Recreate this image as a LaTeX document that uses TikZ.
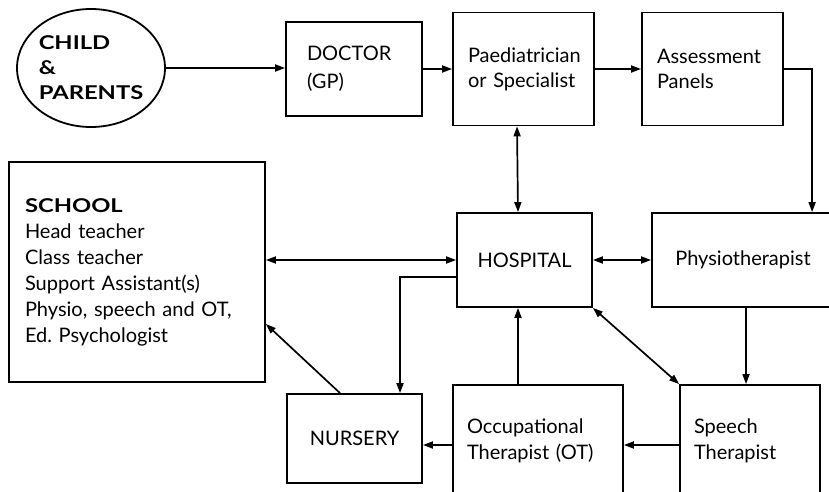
\documentclass[tikz,border=0pt]{standalone}
\usepackage{fontspec}
\setmainfont{Lato}
\newfontfamily\headfont[FakeStretch=1.25]{Lato Bold}
\usetikzlibrary{arrows.meta,shapes.geometric}
\frenchspacing
\begin{document}
\begin{tikzpicture}[x=1pt,y=-1pt,
  every node/.style={font=\fontsize{20}{25}\selectfont},
  box/.style={draw, rectangle, line width=1.8pt, align=left, inner ysep=0pt},
  link/.style={line width=1.7pt},
  arr/.style={link, -{Triangle[length=10pt,width=7pt]}},
  darr/.style={link, {Triangle[length=10pt,width=7pt]}-{Triangle[length=10pt,width=7pt]}}]
\useasboundingbox (0,0) rectangle (829,492);
\clip (0,0) rectangle (829,492);

% participants
\node[draw, ellipse, line width=1.8pt, minimum width=148pt, minimum height=118pt,
      inner sep=0pt, align=left, font=\fontsize{19}{25}\headfont]
  (cp) at (91,68) {CHILD\\\&\\PARENTS};
\node[box, minimum width=136pt, minimum height=94pt, inner xsep=21pt, text width=94pt,
      font=\fontsize{20}{28}\selectfont]
  (doc) at (354,69) {DOCTOR\\(GP)};
\node[box, minimum width=141pt, minimum height=113pt, inner xsep=15pt, text width=111pt]
  (paed) at (523.5,69) {Paediatrician\\or Specialist};
\node[box, minimum width=141pt, minimum height=113pt, inner xsep=15pt, text width=111pt]
  (asmt) at (712.5,69) {Assessment\\Panels};
\node[box, minimum width=135pt, minimum height=94pt, align=center]
  (hosp) at (524.5,260) {HOSPITAL};
\node[box, minimum width=182pt, minimum height=94pt, align=center]
  (phys) at (743,260) {Physiotherapist};
\node[box, minimum width=256pt, minimum height=220pt, inner xsep=16pt, text width=224pt,
      font=\fontsize{20}{26}\selectfont]
  (school) at (137,272) {{\fontsize{19}{26}\headfont SCHOOL}\\Head teacher\\Class teacher\\Support Assistant(s)\\Physio, speech and OT,\\Ed. Psychologist\\[8pt]};
\node[box, minimum width=135pt, minimum height=89pt, align=center]
  (nurs) at (354.5,438.5) {NURSERY};
\node[box, minimum width=170pt, minimum height=112pt, inner xsep=14pt, text width=142pt,
      font=\fontsize{20}{26}\selectfont]
  (ot) at (538,441) {Occupational\\Therapist (OT)};
\node[box, minimum width=140pt, minimum height=112pt, inner xsep=14pt, text width=112pt,
      font=\fontsize{20}{26}\selectfont]
  (sp) at (750,441) {Speech\\Therapist};

% referral route along the top
\draw[arr] (cp.east) -- (cp.east -| doc.west);
\draw[arr] (doc.east) -- (doc.east -| paed.west);
\draw[arr] (paed.east) -- (paed.east -| asmt.west);
\draw[arr] (asmt.east) -| ([xshift=161pt]phys.north west);

% links around the hospital
\draw[darr] ([xshift=-6.5pt]paed.south) -- ([xshift=-6.5pt]hosp.north);
\draw[darr] (hosp.east) -- (phys.west);
\draw[darr] (hosp.west) -- (hosp.west -| school.east);
\draw[arr] ([yshift=-17pt]hosp.west) -| ([xshift=45.5pt]nurs.north);
\draw[darr] (hosp.south east) -- (sp.north west);

% therapists and nursery
\draw[arr] ([xshift=3pt]phys.south) -- ([xshift=3pt]phys.south |- sp.north);
\draw[arr] ([yshift=-4pt]sp.west) -- ([yshift=-4pt]sp.west -| ot.east);
\draw[arr] ([yshift=-4pt]ot.west) -- ([yshift=-4pt]ot.west -| nurs.east);
\draw[arr] ([xshift=-6.5pt]hosp.south |- ot.north) -- ([xshift=-6.5pt]hosp.south);
\draw[arr] ([xshift=-14.5pt]nurs.north) -- ([yshift=-52pt]school.east);
\end{tikzpicture}
\end{document}
